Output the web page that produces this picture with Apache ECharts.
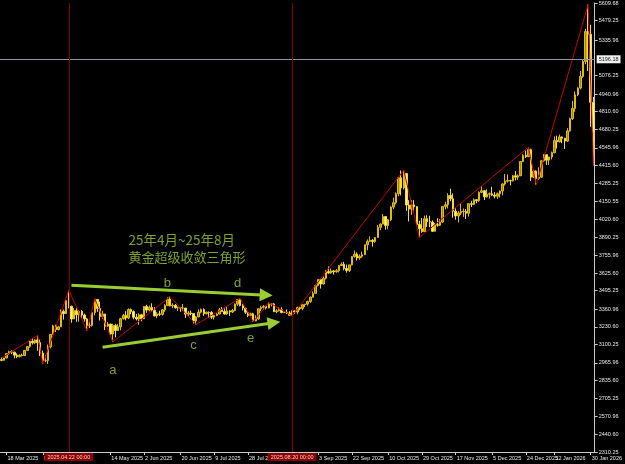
<!DOCTYPE html>
<html><head><meta charset="utf-8">
<script src="https://cdn.jsdelivr.net/npm/echarts@6/dist/echarts.min.js"></script>
<style>html,body{margin:0;padding:0;background:#000}#c{width:625px;height:464px}</style>
</head><body><div id="c"></div>
<script>
// Daily XAUUSD bars, [open, high, low, close], 14 Mar 2025 .. 2 Feb 2026 (weekdays, exchange holidays skipped)
const candles = [
[2989,3005,2977,2984],[2984,3004,2982,3001],[3001,3038,2999,3034],[3034,3055,3025,3047],[3047,3057,3029,3044],
[3044,3047,2999,3022],[3022,3035,3000,3011],[3011,3030,3005,3020],[3020,3033,3013,3019],[3019,3060,3015,3057],
[3057,3087,3054,3085],[3085,3128,3077,3124],[3124,3149,3100,3113],[3113,3138,3105,3134],[3134,3167,3054,3114],
[3114,3136,3015,3037],[3037,3055,2956,2982],[2982,3023,2970,2982],[2982,3100,2957,3083],[3083,3176,3072,3175],
[3175,3245,3174,3237],[3237,3245,3193,3210],[3210,3232,3204,3230],[3230,3358,3228,3343],[3343,3357,3283,3327],
[3327,3430,3326,3424],[3424,3500,3366,3381],[3381,3386,3260,3288],[3288,3368,3287,3349],[3349,3371,3267,3319],
[3319,3352,3268,3344],[3344,3353,3296,3317],[3317,3327,3268,3288],[3288,3296,3202,3239],[3239,3269,3221,3241],
[3241,3336,3231,3334],[3334,3437,3315,3431],[3431,3434,3340,3365],[3365,3415,3276,3306],[3306,3348,3288,3325],
[3325,3325,3207,3235],[3235,3265,3229,3250],[3250,3253,3172,3178],[3178,3252,3120,3240],[3240,3252,3153,3203],
[3203,3250,3200,3230],[3230,3296,3204,3290],[3290,3325,3283,3314],[3314,3345,3278,3295],[3295,3366,3287,3357],
[3357,3365,3323,3342],[3342,3350,3285,3300],[3300,3325,3277,3288],[3288,3330,3245,3318],[3318,3325,3271,3289],
[3289,3383,3287,3380],[3380,3392,3333,3353],[3353,3386,3343,3373],[3373,3403,3339,3352],[3352,3375,3307,3310],
[3310,3338,3293,3325],[3325,3349,3309,3322],[3322,3360,3313,3355],[3355,3397,3340,3386],[3386,3446,3385,3433],
[3433,3452,3381,3384],[3384,3403,3367,3388],[3388,3398,3363,3370],[3370,3380,3347,3370],[3370,3375,3340,3368],
[3368,3398,3347,3368],[3368,3369,3295,3323],[3323,3347,3311,3332],[3332,3350,3315,3328],[3328,3329,3255,3273],
[3273,3309,3247,3303],[3303,3358,3301,3338],[3338,3365,3329,3357],[3357,3366,3311,3326],[3326,3343,3322,3337],
[3337,3343,3296,3336],[3336,3345,3287,3301],[3301,3317,3283,3313],[3313,3330,3310,3324],[3324,3369,3322,3355],
[3355,3375,3341,3343],[3343,3366,3320,3324],[3324,3377,3319,3347],[3347,3352,3310,3339],[3339,3361,3332,3350],
[3350,3402,3344,3397],[3397,3433,3383,3431],[3431,3439,3381,3387],[3387,3396,3351,3368],[3368,3373,3325,3337],
[3337,3345,3301,3314],[3314,3334,3309,3326],[3326,3333,3268,3274],[3274,3315,3270,3289],[3289,3363,3281,3363],
[3363,3385,3345,3373],[3373,3390,3355,3380],[3380,3385,3358,3368],[3368,3409,3366,3397],[3397,3400,3380,3398],
[3398,3404,3340,3341],[3341,3359,3331,3348],[3348,3375,3342,3356],[3356,3374,3330,3335],[3335,3346,3331,3336],
[3336,3358,3323,3332],[3332,3345,3314,3315],[3315,3351,3311,3347],[3347,3351,3324,3339],[3339,3378,3322,3371],
[3371,3376,3352,3365],[3365,3393,3352,3393],[3393,3398,3375,3397],[3397,3423,3386,3416],[3416,3453,3406,3448],
[3448,3490,3444,3476],[3476,3540,3474,3533],[3533,3578,3527,3578],[3578,3580,3511,3545],[3545,3600,3541,3587],
[3587,3646,3578,3636],[3636,3674,3620,3626],[3626,3658,3620,3641],[3641,3647,3614,3634],[3634,3655,3628,3643],
[3643,3684,3630,3680],[3680,3703,3677,3690],[3690,3707,3645,3659],[3659,3687,3628,3644],[3644,3686,3633,3685],
[3685,3749,3682,3746],[3746,3791,3739,3764],[3764,3777,3717,3736],[3736,3762,3722,3749],[3749,3782,3737,3760],
[3760,3835,3758,3833],[3833,3872,3793,3858],[3858,3895,3853,3866],[3866,3875,3820,3857],[3857,3889,3847,3886],
[3886,3977,3885,3961],[3961,3990,3940,3985],[3985,4059,3983,4040],[4040,4045,3944,3975],[3975,4022,3947,4017],
[4017,4116,4007,4110],[4110,4179,4095,4142],[4142,4218,4130,4208],[4208,4330,4190,4326],[4326,4379,4196,4251],
[4251,4381,4239,4356],[4356,4359,4082,4125],[4125,4161,4004,4095],[4095,4161,4053,4126],[4126,4161,4074,4112],
[4112,4117,3971,3982],[3982,4010,3886,3950],[3950,4030,3921,3930],[3930,4047,3928,4024],[4024,4050,3964,4002],
[4002,4046,3962,4000],[4000,4012,3928,3932],[3932,3994,3930,3980],[3980,4028,3966,3977],[3977,4022,3970,4000],
[4000,4118,3994,4115],[4115,4149,4094,4128],[4128,4212,4100,4195],[4195,4245,4153,4171],[4171,4211,4032,4080],
[4080,4101,4017,4045],[4045,4082,3997,4067],[4067,4133,4052,4077],[4077,4100,4038,4078],[4078,4096,4022,4065],
[4065,4140,4040,4135],[4135,4156,4110,4130],[4130,4174,4124,4164],[4164,4170,4138,4157],[4157,4225,4148,4218],
[4218,4264,4213,4230],[4230,4234,4162,4185],[4185,4241,4180,4205],[4205,4218,4172,4208],[4208,4259,4190,4198],
[4198,4220,4174,4190],[4190,4218,4170,4208],[4208,4232,4180,4228],[4228,4285,4196,4280],[4280,4353,4268,4300],
[4300,4350,4290,4305],[4305,4310,4270,4303],[4303,4345,4298,4340],[4340,4375,4306,4330],[4330,4350,4310,4340],
[4340,4448,4338,4445],[4445,4498,4440,4490],[4490,4525,4470,4480],[4480,4550,4478,4532],[4532,4540,4302,4330],
[4330,4385,4325,4375],[4375,4380,4275,4320],[4320,4402,4310,4330],[4330,4455,4328,4450],[4450,4500,4440,4495],
[4495,4500,4420,4455],[4455,4480,4420,4478],[4478,4518,4460,4510],[4510,4630,4505,4600],[4600,4635,4540,4590],
[4590,4643,4585,4625],[4625,4630,4580,4615],[4615,4620,4537,4595],[4595,4690,4590,4670],[4670,4767,4665,4760],
[4760,4890,4750,4835],[4835,4960,4810,4935],[4935,4990,4925,4985],[4985,5110,4975,5070],[5070,5190,5060,5180],
[5180,5420,5160,5400],[5400,5598,5110,5380],[5380,5450,4700,4880],[4880,4920,4415,4660]
];
// ZigZag swing points: [bar index, price]
const zigzag = [[0,3000],[14,3167],[16,2956],[26,3500],[33,3202],[36,3437],[43,3120],[65,3452],[75,3247],
  [92,3439],[97,3268],[103,3409],[112,3311],[155,4381],[161,3886],[203,4550],[206,4275],[226,5598],[228,4415]];
const yLabels = ["2310.25","2440.60","2570.96","2705.25","2835.60","2965.96","3100.25","3230.60","3360.96",
  "3495.25","3625.60","3755.96","3890.25","4020.60","4150.55","4285.25","4415.60","4545.96","4680.25",
  "4810.60","4940.96","5076.25","5335.96","5479.25","5609.68"];
const tickLabels = ["18 Mar 2025","6 Apr 2025","14 May 2025","2 Jun 2025","20 Jun 2025","9 Jul 2025","28 Jul 2025",
  "3 Sep 2025","22 Sep 2025","10 Oct 2025","29 Oct 2025","17 Nov 2025","5 Dec 2025","24 Dec 2025","12 Jan 2026","30 Jan 2026"];
const markerDates = ["2025-04-22","2025-08-20"];
const markerTexts = ["2025.04.22 00:00","2025.08.20 00:00"];
const priceLine = 5196.18;
const holidays = ["2025-04-18","2025-12-25","2026-01-01"];
const yMin = 2310.25, yMax = 5609.68;

const MON = ['Jan','Feb','Mar','Apr','May','Jun','Jul','Aug','Sep','Oct','Nov','Dec'];
const iso = [], dates = [];
for (let t = Date.UTC(2025,2,14); iso.length < candles.length; t += 86400000) {
  const d = new Date(t), wd = d.getUTCDay(), s = d.toISOString().slice(0,10);
  if (wd === 0 || wd === 6 || holidays.includes(s)) continue;
  iso.push(s); dates.push(d.getUTCDate()+' '+MON[d.getUTCMonth()]+' '+d.getUTCFullYear());
}
const labelAt = {};
tickLabels.forEach(t => {
  const p = t.split(' ');
  const s = new Date(Date.UTC(+p[2], MON.indexOf(p[1]), +p[0])).toISOString().slice(0,10);
  const i = iso.findIndex(x => x >= s);
  if (i >= 0) labelAt[i] = t;
});
const isTick = i => labelAt[i] !== undefined;

const GREEN = '#9acd32';
const notes = [
  {at:[49,3872], text:'25年4月~25年8月', pos:'right', font:'Noto Sans CJK SC', size:13.5},
  {at:[49,3740], text:'黄金超级收敛三角形', pos:'right', font:'Noto Sans CJK SC', size:13},
  {at:[64,3549], text:'b', pos:'inside', font:'Liberation Sans', size:13},
  {at:[91,3549], text:'d', pos:'inside', font:'Liberation Sans', size:13},
  {at:[74,3095], text:'c', pos:'inside', font:'Liberation Sans', size:13},
  {at:[96,3146], text:'e', pos:'inside', font:'Liberation Sans', size:13},
  {at:[43,2911], text:'a', pos:'inside', font:'Liberation Sans', size:13}
];
const arrows = [[[27,3535],[102,3463]], [[39,3080],[105,3260]]];

const chart = echarts.init(document.getElementById('c'), null, {renderer:'canvas'});
chart.setOption({
  backgroundColor:'#000',
  animation:false,
  grid:{left:-2, right:24, top:2, bottom:12},
  xAxis:{
    type:'category', data:dates, boundaryGap:true,
    axisLine:{lineStyle:{color:'#c8c8c8', width:1}},
    axisTick:{show:true, interval:isTick, alignWithLabel:true, length:3, lineStyle:{color:'#c8c8c8'}},
    axisLabel:{interval:isTick, formatter:(v,i)=>labelAt[i]||'', align:'left', margin:3, color:'#e6e6e6',
      fontSize:5.5, fontFamily:'Liberation Sans', padding:[0,0,0,1]},
    splitLine:{show:false}
  },
  yAxis:{
    type:'value', position:'right', min:yMin, max:yMax, scale:true,
    axisLine:{show:true, lineStyle:{color:'#c8c8c8', width:1}},
    axisTick:{show:true, length:3, customValues:yLabels.map(Number), lineStyle:{color:'#c8c8c8'}},
    axisLabel:{customValues:yLabels.map(Number), formatter:v=>v.toFixed(2), margin:4, color:'#e6e6e6',
      fontSize:5.5, fontFamily:'Liberation Sans'},
    splitLine:{show:false}
  },
  series:[
    {
      type:'candlestick', data:candles.map(c=>[c[0],c[3],c[2],c[1]]), barWidth:2,
      itemStyle:{color:'#a8860b', color0:'#fff6b0', borderColor:'#e3bd00', borderColor0:'#f5dc30', borderWidth:1},
      markLine:{
        silent:true, symbol:['none','none'], animation:false,
        lineStyle:{color:'#8a98aa', width:1, type:'solid'},
        data:[
          {yAxis:priceLine,
            label:{show:true, position:'end', distance:2, formatter:priceLine.toFixed(2), color:'#202020',
              backgroundColor:'#f0f0f0', padding:[1,2,1,2], fontSize:5.5, fontFamily:'Liberation Sans'}}
        ]
      }
    },
    {
      type:'line', data:zigzag, symbol:'none', z:3,
      lineStyle:{color:'#c80000', width:1},
      markLine:{
        silent:true, animation:false, symbol:['none','triangle'], symbolSize:13,
        lineStyle:{color:GREEN, width:3, type:'solid'}, itemStyle:{color:GREEN},
        label:{show:false},
        data: arrows.map(a=>[{coord:a[0]},{coord:a[1]}])
      }
    },
    {
      type:'scatter', symbolSize:0, z:5, silent:true,
      data: notes.map(n=>({value:n.at, label:{show:true, formatter:n.text, position:n.pos, distance:0,
        color:GREEN, fontSize:n.size, fontFamily:n.font}})),
      markLine:{
        silent:true, animation:false, symbol:['none','none'],
        lineStyle:{color:'#800000', width:1, type:'solid', opacity:1},
        label:{show:true, position:'start', distance:1, color:'#ffc8c8',
          backgroundColor:'#8b0000', padding:[1,3,1,3], fontSize:5.5, fontFamily:'Liberation Sans'},
        data: markerDates.map((d,k)=>({xAxis: iso.indexOf(d), label:{formatter:markerTexts[k]}}))
      }
    }
  ]
});
</script></body></html>
